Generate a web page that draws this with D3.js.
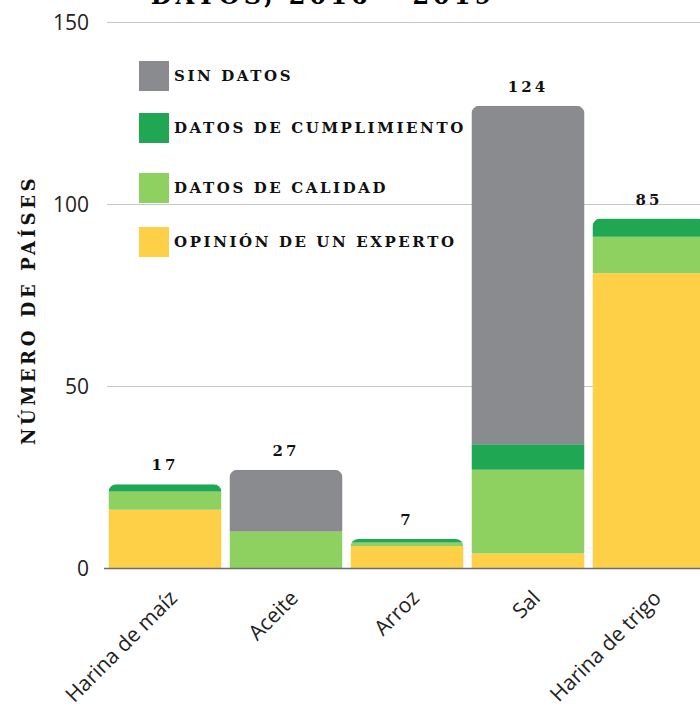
<!DOCTYPE html>
<html>
<head>
<meta charset="utf-8">
<script src="https://cdn.jsdelivr.net/npm/d3@7"></script>
<style>
  html, body { margin: 0; padding: 0; background: #fff; }
  svg { display: block; }
</style>
</head>
<body>
<div id="chart"></div>
<script>
// data
var categories = ["Harina de maíz", "Aceite", "Arroz", "Sal", "Harina de trigo"];
var seriesKeys = ["experto", "calidad", "cumplimiento", "sinDatos"];
var seriesNames = ["OPINIÓN DE UN EXPERTO", "DATOS DE CALIDAD", "DATOS DE CUMPLIMIENTO", "SIN DATOS"];
var seriesColors = ["#fed047", "#8fd161", "#1fa753", "#898b8f"];
var experto      = [16, 0, 6, 4, 81];
var calidad      = [5, 10, 1, 23, 10];
var cumplimiento = [2, 0, 1, 7, 5];
var sinDatos     = [0, 17, 0, 93, 0];
var totalLabels  = ["17", "27", "7", "124", "85"];
var yTicks = [0, 50, 100, 150];
var titleText = "DATOS, 2016 – 2019";
var yTitle = "NÚMERO DE PAÍSES";

var width = 700, height = 706;
var slab = "DejaVu Serif";
var sans = "'Open Sans', 'Noto Sans', sans-serif";

var rows = categories.map(function(c, i) {
  return {cat: c, experto: experto[i], calidad: calidad[i],
          cumplimiento: cumplimiento[i], sinDatos: sinDatos[i], label: totalLabels[i]};
});
var stacked = d3.stack().keys(seriesKeys)(rows);

var svg = d3.select("#chart").append("svg")
  .attr("width", width)
  .attr("height", height);

var x = d3.scaleBand()
  .domain(categories)
  .range([104.5, 709.5])
  .paddingInner(0.066)
  .paddingOuter(0.033);

var y = d3.scaleLinear()
  .domain([0, 150])
  .range([568, 22]);

// title (cut off at the top in the original)
svg.append("text")
  .attr("x", 323)
  .attr("y", 4)
  .attr("text-anchor", "middle")
  .style("font-family", slab)
  .style("font-weight", "bold")
  .style("font-size", "24px")
  .style("letter-spacing", "4px")
  .text(titleText);

// grid
svg.append("g").selectAll("line")
  .data(yTicks.filter(function(d) { return d > 0; }))
  .enter().append("line")
    .attr("x1", 107).attr("x2", width)
    .attr("y1", function(d) { return y(d) + 0.5; })
    .attr("y2", function(d) { return y(d) + 0.5; })
    .style("stroke", "#c6c6c6")
    .style("stroke-width", 1);

// y tick labels
svg.append("g").selectAll("text")
  .data(yTicks)
  .enter().append("text")
    .attr("x", 89)
    .attr("y", function(d) { return y(d); })
    .attr("dy", "0.36em")
    .attr("text-anchor", "end")
    .style("font-family", sans)
    .style("font-size", "21px")
    .style("fill", "#222")
    .text(function(d) { return d; });

// y axis title
svg.append("text")
  .attr("transform", "translate(35,310) rotate(-90)")
  .attr("text-anchor", "middle")
  .style("font-family", slab)
  .style("font-weight", "bold")
  .style("font-size", "18px")
  .style("letter-spacing", "3.6px")
  .style("fill", "#111")
  .text(yTitle);

// rounded-top clip per column
var defs = svg.append("defs");
var r = 8;
rows.forEach(function(d, i) {
  var total = d.experto + d.calidad + d.cumplimiento + d.sinDatos;
  var x0 = x(d.cat), x1 = x0 + x.bandwidth(), yt = y(total), yb = y(0) + 1;
  var p = d3.path();
  p.moveTo(x0, yb);
  p.lineTo(x0, yt + r);
  p.arcTo(x0, yt, x0 + r, yt, r);
  p.lineTo(x1 - r, yt);
  p.arcTo(x1, yt, x1, yt + r, r);
  p.lineTo(x1, yb);
  p.closePath();
  defs.append("clipPath").attr("id", "col" + i)
    .append("path").attr("d", p.toString());
});

// bars
var layers = svg.append("g").selectAll("g")
  .data(stacked)
  .enter().append("g")
    .style("fill", function(d, i) { return seriesColors[i]; });

layers.selectAll("rect")
  .data(function(d) { return d; })
  .enter().append("rect")
    .attr("clip-path", function(d, i) { return "url(#col" + i + ")"; })
    .attr("x", function(d) { return x(d.data.cat); })
    .attr("width", x.bandwidth())
    .attr("y", function(d) { return y(d[1]); })
    .attr("height", function(d) { return Math.max(0, y(d[0]) - y(d[1])); });

// baseline
svg.append("line")
  .attr("x1", 104).attr("x2", width)
  .attr("y1", y(0) + 0.5).attr("y2", y(0) + 0.5)
  .style("stroke", "#6d6d6d")
  .style("stroke-width", 1.5);

// value labels
svg.append("g").selectAll("text")
  .data(stacked[stacked.length - 1])
  .enter().append("text")
    .attr("x", function(d) { return x(d.data.cat) + x.bandwidth() / 2; })
    .attr("y", function(d) { return y(d[1]) - 14; })
    .attr("text-anchor", "middle")
    .style("font-family", slab)
    .style("font-weight", "bold")
    .style("font-size", "15px")
    .style("letter-spacing", "3px")
    .style("fill", "#111")
    .text(function(d) { return d.data.label; });

// x labels
svg.append("g").selectAll("text")
  .data(categories)
  .enter().append("text")
    .attr("transform", function(d) {
      return "translate(" + (x(d) + x.bandwidth() / 2 + 3) + ",589) rotate(-45)";
    })
    .attr("text-anchor", "end")
    .attr("dy", "0.7em")
    .style("font-family", sans)
    .style("font-size", "21px")
    .style("fill", "#222")
    .text(function(d) { return d; });

// legend
var legendOrder = [3, 2, 1, 0];
var legendY = [61, 113, 173, 227];
var legend = svg.append("g").selectAll("g")
  .data(legendOrder)
  .enter().append("g")
    .attr("transform", function(d, i) { return "translate(139," + legendY[i] + ")"; });
legend.append("rect")
  .attr("width", 30).attr("height", 30)
  .style("fill", function(d) { return seriesColors[d]; });
legend.append("text")
  .attr("x", 35)
  .attr("y", 15)
  .attr("dy", "0.36em")
  .style("font-family", slab)
  .style("font-weight", "bold")
  .style("font-size", "15px")
  .style("letter-spacing", "2.6px")
  .style("fill", "#111")
  .text(function(d) { return seriesNames[d]; });
</script>
</body>
</html>
